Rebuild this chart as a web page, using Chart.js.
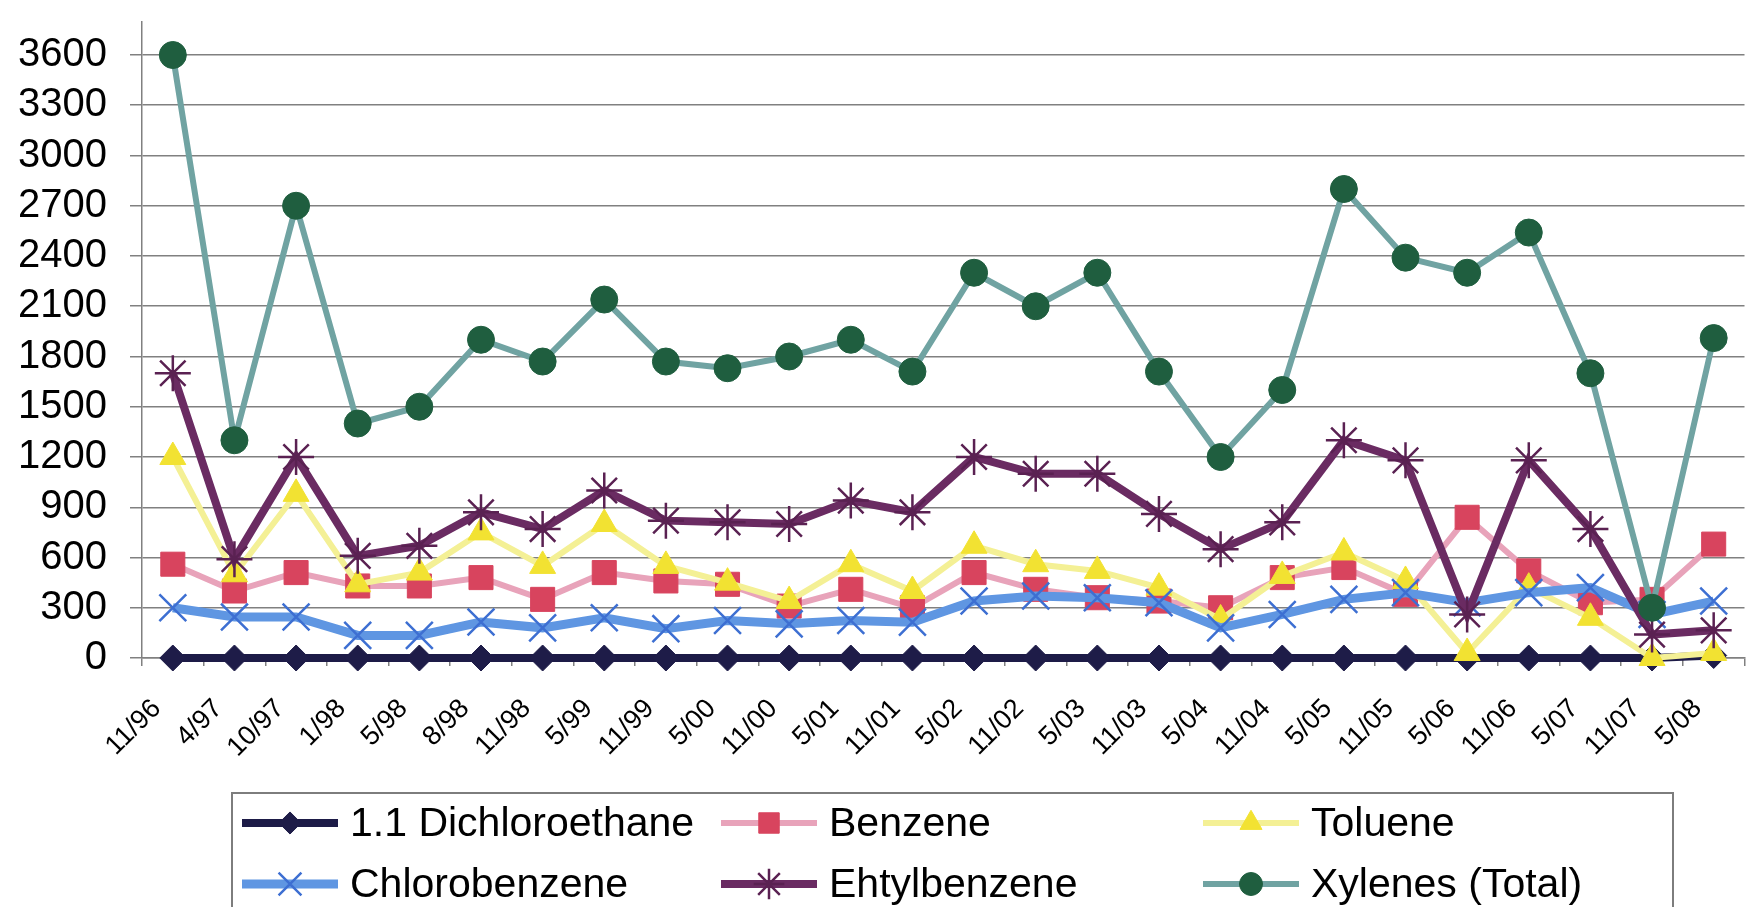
<!DOCTYPE html>
<html lang="en">
<head>
<meta charset="UTF-8">
<title>VOC concentrations</title>
<style>
    html, body { margin: 0; padding: 0; background: #fff; overflow: hidden; }
    .chart-box { position: absolute; left: 0; top: 0; width: 1766px; height: 907px; }
</style>
</head>
<body>
<div class="chart-box">
    <canvas id="myChart"></canvas>
</div>

<script src="https://cdn.jsdelivr.net/npm/chart.js"></script>
<script>
    // sampling dates
    const labels = ['11/96', '4/97', '10/97', '1/98', '5/98', '8/98', '11/98', '5/99', '11/99', '5/00',
        '11/00', '5/01', '11/01', '5/02', '11/02', '5/03', '11/03', '5/04', '11/04', '5/05',
        '11/05', '5/06', '11/06', '5/07', '11/07', '5/08'];

    const dichloroethane = [0, 0, 0, 0, 0, 0, 0, 0, 0, 0, 0, 0, 0, 0, 0, 0, 0, 0, 0, 0, 0, 0, 0, 0, 0, 15];
    const benzene = [560, 400, 510, 430, 430, 480, 350, 510, 460, 440, 310, 410, 300, 510, 410, 360,
        340, 300, 480, 540, 380, 840, 520, 330, 350, 680];
    const toluene = [1200, 500, 980, 440, 510, 750, 550, 800, 550, 450, 340, 560, 400, 670, 560, 520,
        420, 230, 490, 630, 460, 30, 420, 240, 0, 30];
    const chlorobenzene = [300, 245, 245, 135, 135, 215, 180, 240, 175, 224, 204, 224, 214, 340, 370, 360,
        330, 180, 260, 350, 390, 330, 390, 420, 260, 340];
    const ethylbenzene = [1700, 590, 1200, 610, 670, 870, 770, 1000, 820, 810, 800, 940, 870, 1200, 1100, 1100,
        860, 650, 810, 1300, 1180, 260, 1180, 770, 140, 165];
    const xylenes = [3600, 1300, 2700, 1400, 1500, 1900, 1770, 2140, 1770, 1730, 1800, 1900, 1710, 2300, 2100, 2300,
        1710, 1200, 1600, 2800, 2390, 2300, 2540, 1700, 300, 1910];

    const yTicks = [0, 300, 600, 900, 1200, 1500, 1800, 2100, 2400, 2700, 3000, 3300, 3600];

    const FONT = '"Liberation Sans", Arial, sans-serif';

    // legend in a box under the chart, drawn with the datasets' own styles
    const boxLegend = {
        id: 'boxLegend',
        afterDraw(chart) {
            const ctx = chart.ctx;
            const colX = [242, 721, 1203];
            const rowY = [823, 884];
            ctx.save();
            ctx.strokeStyle = '#7d7d7d';
            ctx.lineWidth = 2;
            ctx.strokeRect(232, 793, 1441, 160);
            ctx.font = '41px ' + FONT;
            ctx.textBaseline = 'middle';
            chart.data.datasets.forEach((ds, i) => {
                const x = colX[i % 3];
                const y = rowY[Math.floor(i / 3)];
                ctx.strokeStyle = ds.borderColor;
                ctx.lineWidth = ds.borderWidth;
                ctx.beginPath();
                ctx.moveTo(x, y);
                ctx.lineTo(x + 96, y);
                ctx.stroke();
                ctx.fillStyle = ds.pointBackgroundColor;
                ctx.strokeStyle = ds.pointBorderColor;
                ctx.lineWidth = ds.pointBorderWidth;
                Chart.helpers.drawPoint(ctx, {
                    pointStyle: ds.pointStyle,
                    radius: ds.pointRadius * 0.85,
                    rotation: 0,
                    borderWidth: ds.pointBorderWidth
                }, x + 48, y);
                ctx.fillStyle = '#000';
                ctx.fillText(ds.label, x + 108, y + 2);
            });
            ctx.restore();
        }
    };

    const ctx = document.getElementById('myChart').getContext('2d');
    new Chart(ctx, {
        type: 'line',
        data: {
            labels: labels,
            datasets: [{
                label: '1.1 Dichloroethane',
                data: dichloroethane,
                borderColor: '#1d1b47',
                borderWidth: 8,
                pointStyle: 'rectRot',
                pointRadius: 13,
                pointBackgroundColor: '#1e1c48',
                pointBorderColor: '#1e1c48',
                pointBorderWidth: 1,
                clip: false,
                order: 5
            }, {
                label: 'Benzene',
                data: benzene,
                borderColor: '#e8a3ba',
                borderWidth: 6,
                pointStyle: 'rect',
                pointRadius: 17,
                pointBackgroundColor: '#d8445e',
                pointBorderColor: '#d8445e',
                pointBorderWidth: 1,
                clip: false,
                order: 4
            }, {
                label: 'Toluene',
                data: toluene,
                borderColor: '#f4f095',
                borderWidth: 6,
                pointStyle: 'triangle',
                pointRadius: 15,
                pointBackgroundColor: '#f2e232',
                pointBorderColor: '#f2e232',
                pointBorderWidth: 1,
                clip: false,
                order: 3
            }, {
                label: 'Chlorobenzene',
                data: chlorobenzene,
                borderColor: '#5f96e2',
                borderWidth: 9,
                pointStyle: 'crossRot',
                pointRadius: 19,
                pointBackgroundColor: '#3d6fd2',
                pointBorderColor: '#3d6fd2',
                pointBorderWidth: 2.5,
                clip: false,
                order: 2
            }, {
                label: 'Ehtylbenzene',
                data: ethylbenzene,
                borderColor: '#6a2b62',
                borderWidth: 8,
                pointStyle: 'star',
                pointRadius: 18,
                pointBackgroundColor: '#5a2152',
                pointBorderColor: '#5a2152',
                pointBorderWidth: 2.5,
                clip: false,
                order: 1
            }, {
                label: 'Xylenes (Total)',
                data: xylenes,
                borderColor: '#70a3a2',
                borderWidth: 6,
                pointStyle: 'circle',
                pointRadius: 13.5,
                pointBackgroundColor: '#1f5e3f',
                pointBorderColor: '#1f5e3f',
                pointBorderWidth: 1,
                clip: false,
                order: 0
            }]
        },
        options: {
            responsive: true,
            maintainAspectRatio: false,
            animation: false,
            layout: { padding: { top: 12, left: 0, right: 0, bottom: 0 } },
            plugins: {
                legend: { display: false },
                tooltip: { enabled: false }
            },
            elements: { line: { tension: 0 } },
            scales: {
                x: {
                    offset: true,
                    grid: {
                        offset: true,
                        drawOnChartArea: false,
                        tickLength: 8,
                        color: '#808080',
                        lineWidth: 1.5
                    },
                    border: { color: '#808080', width: 1.5 },
                    ticks: {
                        autoSkip: false,
                        minRotation: 45,
                        maxRotation: 45,
                        padding: 27,
                        labelOffset: -16,
                        color: '#000',
                        font: { family: FONT, size: 27 }
                    },
                    afterFit(scale) {
                        scale.height = 249;
                        scale.paddingLeft = 0;
                        scale.paddingRight = 0;
                    }
                },
                y: {
                    min: 0,
                    max: 3800,
                    afterBuildTicks(scale) {
                        scale.ticks = yTicks.map(v => ({ value: v }));
                    },
                    grid: {
                        color: '#808080',
                        lineWidth: 1.5,
                        tickLength: 12
                    },
                    border: { color: '#808080', width: 1.5 },
                    ticks: {
                        padding: 23,
                        color: '#000',
                        font: { family: FONT, size: 40 },
                        callback: v => String(v)
                    },
                    afterFit(scale) {
                        scale.width = 142;
                        scale.paddingTop = 0;
                        scale.paddingBottom = 0;
                    }
                }
            }
        },
        plugins: [boxLegend]
    });
</script>
</body>
</html>
